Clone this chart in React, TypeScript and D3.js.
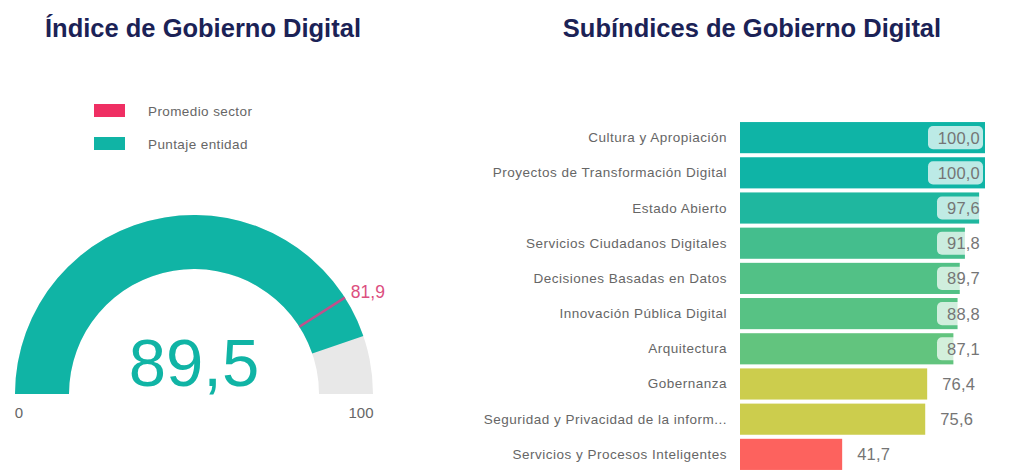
import React from "react";
import * as d3 from "d3";

const gaugeValue = 89.5;
const sectorAverage = 81.9;
const gaugeMin = 0;
const gaugeMax = 100;

const categories = [
  "Cultura y Apropiación",
  "Proyectos de Transformación Digital",
  "Estado Abierto",
  "Servicios Ciudadanos Digitales",
  "Decisiones Basadas en Datos",
  "Innovación Pública Digital",
  "Arquitectura",
  "Gobernanza",
  "Seguridad y Privacidad de la inform...",
  "Servicios y Procesos Inteligentes",
];
const values = [100.0, 100.0, 97.6, 91.8, 89.7, 88.8, 87.1, 76.4, 75.6, 41.7];

const legendItems = ["Promedio sector", "Puntaje entidad"];

const fmt = (v: number) => d3.format(".1f")(v).replace(".", ",");

const FONT = "'Liberation Sans', Arial, sans-serif";
const TEAL = "#10b4a5";
const NAVY = "#1b2256";
const GREY_TXT = "#666666";

export default function App() {
  // Gauge geometry
  const cx = 194, cy = 394, R = 179, r = 125;
  const angle = d3.scaleLinear().domain([gaugeMin, gaugeMax]).range([-Math.PI / 2, Math.PI / 2]);
  const arc = d3.arc<any>().innerRadius(r).outerRadius(R);
  const bgPath = arc({ startAngle: angle(gaugeMin), endAngle: angle(gaugeMax) }) as string;
  const valPath = arc({ startAngle: angle(gaugeMin), endAngle: angle(gaugeValue) }) as string;
  const aAvg = angle(sectorAverage);
  const mx1 = cx + r * Math.sin(aAvg), my1 = cy - r * Math.cos(aAvg);
  const mx2 = cx + R * Math.sin(aAvg), my2 = cy - R * Math.cos(aAvg);

  // Bars geometry
  const x = d3.scaleLinear().domain([0, 100]).range([740, 985]);
  const y = d3.scaleBand<string>().domain(categories).range([121, 471]).paddingInner(0.115).paddingOuter(0.03);
  const greenTeal = d3.scaleLinear<string>().domain([87, 100]).range(["#63c47e", "#0fb4a6"]).clamp(true);
  const color = (v: number) => (v < 60 ? "#fd625e" : v < 80 ? "#cccd4d" : greenTeal(v));
  const labelRight = x(100) - 5;

  return (
    <svg width={1011} height={474} style={{ position: "absolute", left: 0, top: 0, background: "#fff" }}>
      {/* Titles */}
      <text x={203} y={37} textAnchor="middle" fontFamily={FONT} fontWeight="bold" fontSize={25.5} fill={NAVY}>
        Índice de Gobierno Digital
      </text>
      <text x={752} y={37} textAnchor="middle" fontFamily={FONT} fontWeight="bold" fontSize={25.5} fill={NAVY}>
        Subíndices de Gobierno Digital
      </text>

      {/* Legend */}
      {legendItems.map((t, i) => (
        <g key={t} transform={`translate(94, ${104 + i * 33})`}>
          <rect x={0} y={0} width={31} height={13} fill={i === 0 ? "#ef2f63" : TEAL} />
          <text x={54} y={12} fontFamily={FONT} fontSize={13.5} letterSpacing={0.4} fill={GREY_TXT}>{t}</text>
        </g>
      ))}

      {/* Gauge */}
      <g transform={`translate(${cx}, ${cy})`}>
        <path d={bgPath} fill="#e8e8e8" />
        <path d={valPath} fill={TEAL} />
      </g>
      <line x1={mx1} y1={my1} x2={mx2} y2={my2} stroke="#c1508b" strokeWidth={2.5} />
      <text x={mx2 + 6} y={my2} fontFamily={FONT} fontSize={17.5} fill="#dc4f80">{fmt(sectorAverage)}</text>
      <text x={cx} y={386} textAnchor="middle" fontFamily={FONT} fontSize={67} fill={TEAL}>{fmt(gaugeValue)}</text>
      <text x={cx - R + 4} y={418} textAnchor="middle" fontFamily={FONT} fontSize={15} fill={GREY_TXT}>{gaugeMin}</text>
      <text x={cx + R - 12} y={418} textAnchor="middle" fontFamily={FONT} fontSize={15} fill={GREY_TXT}>{gaugeMax}</text>

      {/* Bars */}
      {categories.map((c, i) => {
        const v = values[i];
        const by = y(c)!;
        const bh = y.bandwidth();
        const xe = x(v);
        const inside = v >= 85;
        const label = fmt(v);
        const boxW = label.length * 9 + 10;
        return (
          <g key={c}>
            <text x={727} y={by + bh / 2 + 4.5} textAnchor="end" fontFamily={FONT} fontSize={13.5} letterSpacing={0.5} fill={GREY_TXT}>{c}</text>
            <rect x={x(0)} y={by} width={xe - x(0)} height={bh} fill={color(v)} />
            {inside ? (
              <g>
                <rect x={labelRight + 3 - boxW} y={by + 4} width={boxW} height={bh - 8} rx={5} fill="#ffffff" fillOpacity={0.72} />
                <text x={labelRight} y={by + bh / 2 + 6} textAnchor="end" fontFamily={FONT} fontSize={16.5} letterSpacing={0.2} fill="#757575">{label}</text>
              </g>
            ) : (
              <text x={xe + 15} y={by + bh / 2 + 6} fontFamily={FONT} fontSize={16.5} letterSpacing={0.2} fill="#757575">{label}</text>
            )}
          </g>
        );
      })}
    </svg>
  );
}
